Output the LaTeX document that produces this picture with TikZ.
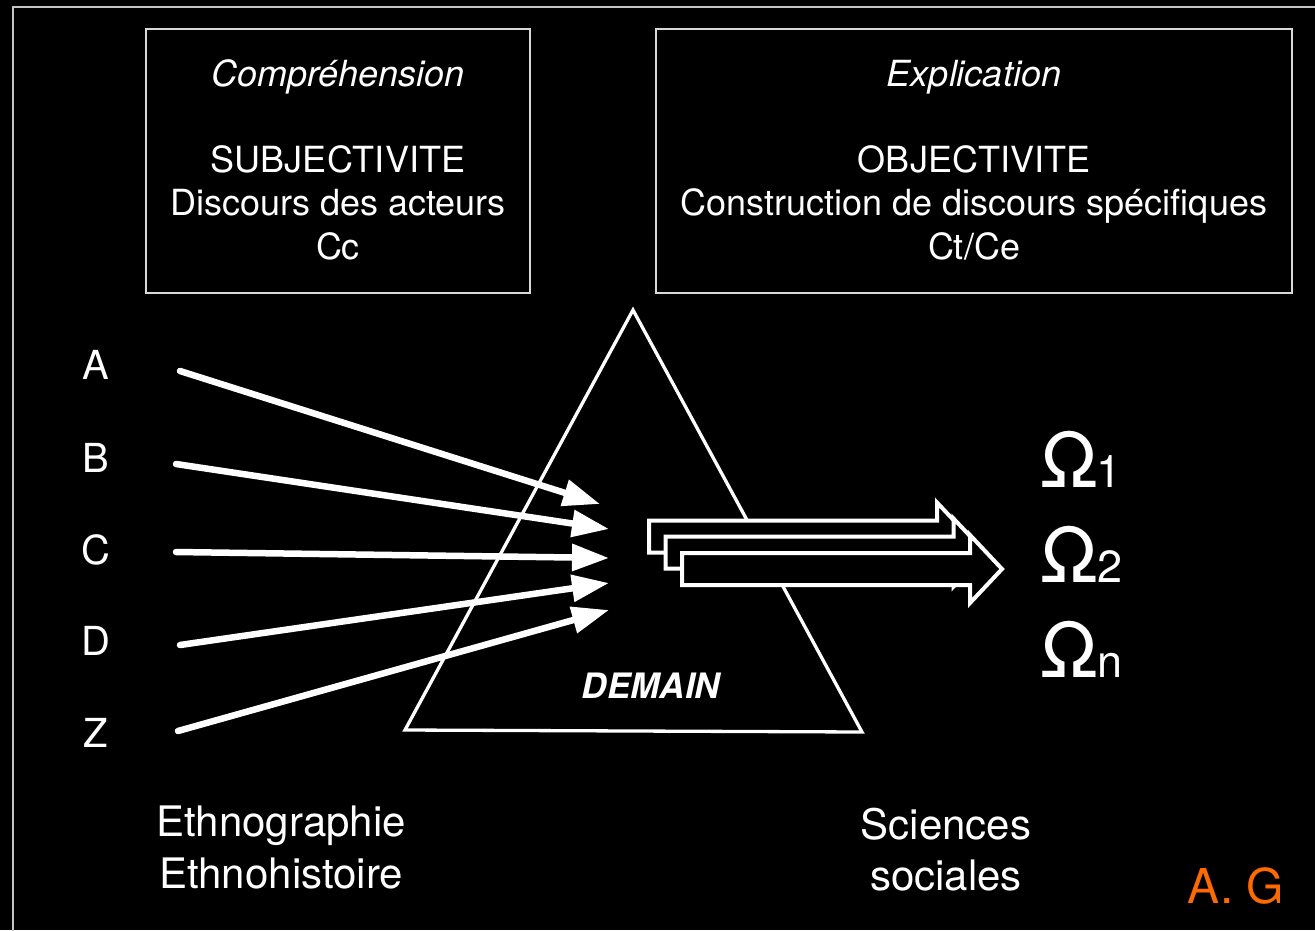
\documentclass[tikz,border=0pt]{standalone}
\usepackage{fontspec}
\setmainfont{TeX Gyre Heros}
\usetikzlibrary{arrows.meta}
\definecolor{frameline}{HTML}{C4C4C4}
\definecolor{boxline}{HTML}{D9D9D9}
\definecolor{agorange}{HTML}{FF6A00}
\newcommand\fs[1]{\fontsize{#1}{#1}\selectfont}
\newcommand\myblockarrow[2]{%
  \draw[blk] (#1,#2-16) -- (#1+288,#2-16) -- (#1+288,#2-34) -- (#1+320,#2)
    -- (#1+288,#2+34) -- (#1+288,#2+16) -- (#1,#2+16) -- cycle;}
\begin{document}
\begin{tikzpicture}[x=1pt,y=-1pt,
  txt/.style={text=white, inner sep=0pt, anchor=base},
  boxtxt/.style={txt, font=\fs{36}},
  lettertxt/.style={txt, font=\fs{40}},
  bigtxt/.style={txt, font=\fs{42}},
  ray/.style={draw=white, line width=6.5pt, line cap=round, -{Triangle[length=37pt,width=26pt]}},
  panel/.style={draw=boxline, line width=2pt, inner sep=0pt},
  blk/.style={draw=white, fill=black, line width=4pt, line join=miter},
  omega/.style={txt, font=\fs{76}},
  omsub/.style={txt, font=\fs{45}, anchor=base west}]
\fill[black] (0,0) rectangle (1315,930);
\useasboundingbox (0,0) rectangle (1315,930);
\begin{scope}
  \clip (0,0) rectangle (1315,930);
  \draw[frameline, line width=2pt] (13,7) rectangle (1345,965);
\end{scope}

% panels
\node[panel, minimum width=384pt, minimum height=264pt] (p1) at (338,161) {};
\node[panel, minimum width=636pt, minimum height=264pt] (p2) at (974,161) {};

\node[txt, font=\fs{36}\itshape] (comp) at (338,86) {Compréhension};
\node[boxtxt] (subj) at (338,172) {SUBJECTIVITE};
\node[boxtxt] (disc) at (338,215) {Discours des acteurs};
\node[boxtxt] (cc) at (338,259) {Cc};

\node[txt, font=\fs{36}\itshape] (expl) at (974,86) {Explication};
\node[boxtxt] (obj) at (974,172) {OBJECTIVITE};
\node[boxtxt] (constr) at (974,215) {Construction de discours spécifiques};
\node[boxtxt] (ctce) at (974,259) {Ct/Ce};

% triangle (prism)
\draw[white, line width=3.3pt, line join=miter] (633,310) -- (405,730) -- (862,732) -- cycle;
\node[txt, font=\fs{35}\bfseries\itshape] (demain) at (651,698) {DEMAIN};

% letters
\node[lettertxt] (lA) at (96,379) {A};
\node[lettertxt] (lB) at (96,472) {B};
\node[lettertxt] (lC) at (96,564) {C};
\node[lettertxt] (lD) at (96,655) {D};
\node[lettertxt] (lZ) at (96,747) {Z};

% rays
\coordinate (sA) at (180,371);
\coordinate (sB) at (176,464);
\coordinate (sC) at (176,552);
\coordinate (sD) at (180,645);
\coordinate (sZ) at (178,731);
\coordinate (tA) at (600,504);
\coordinate (tB) at (609,529);
\coordinate (tC) at (609,558);
\coordinate (tD) at (609,583);
\coordinate (tZ) at (609,610);
\draw[ray] (sA) -- (tA);
\draw[ray] (sB) -- (tB);
\draw[ray] (sC) -- (tC);
\draw[ray] (sD) -- (tD);
\draw[ray] (sZ) -- (tZ);

% block arrows
\myblockarrow{649}{536.5}
\myblockarrow{665.5}{552.5}
\myblockarrow{682}{569}

% omegas
\node[omega] (o1) at (1069,487) {Ω};
\node[omsub] (n1) at (1096,487) {1};
\node[omega] (o2) at (1069,582) {Ω};
\node[omsub] (n2) at (1097,582) {2};
\node[omega] (o3) at (1069,677) {Ω};
\node[omsub] (n3) at (1097,677) {n};

% bottom labels
\node[bigtxt] (eth1) at (281,836) {Ethnographie};
\node[bigtxt] (eth2) at (281,888) {Ethnohistoire};
\node[bigtxt] (sci1) at (946,839) {Sciences};
\node[bigtxt] (sci2) at (946,890) {sociales};
\node[txt, text=agorange, font=\fs{48}] (ag) at (1236,903) {A. G};
\end{tikzpicture}
\end{document}
